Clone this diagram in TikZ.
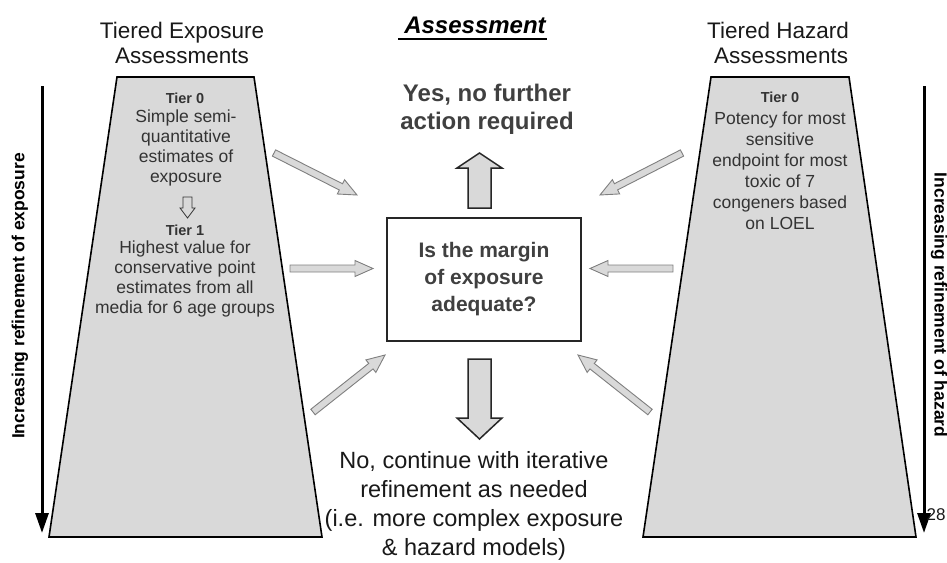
\documentclass[tikz,border=0pt]{standalone}
\usepackage{fontspec}
\setmainfont{Liberation Sans}
\usetikzlibrary{calc,arrows.meta}

\definecolor{trapgray}{HTML}{D9D9D9}
\definecolor{inkgray}{HTML}{404040}
\definecolor{tiertext}{HTML}{333333}
\definecolor{edgegray}{HTML}{7F7F7F}

\tikzset{
  trap/.style={draw=black, line width=1.6pt, fill=trapgray, line join=miter},
  qbox/.style={draw=black!85, line width=1.5pt, fill=white, minimum width=194pt,
    minimum height=123pt, inner sep=0pt, align=center, text=inkgray,
    font=\bfseries\fontsize{21}{27}\selectfont},
  heading/.style={align=center, text=black!90, font=\fontsize{22.5}{25}\selectfont},
  tierlabel/.style={text=tiertext, font=\bfseries\fontsize{14.5}{17}\selectfont},
  tierbody/.style={align=center, text=tiertext, font=\fontsize{17.5}{20.3}\selectfont, inner sep=0pt},
  sidelabel/.style={text=black, font=\bfseries\fontsize{17.5}{20}\selectfont},
  refarrow/.style={line width=3pt, -{Triangle[length=20pt,width=13pt]}},
  thinarrow/.style={draw=edgegray, line width=0.9pt, fill=trapgray, line join=miter},
  bigarrow/.style={draw=black!85, line width=1.5pt, fill=trapgray, line join=miter},
  hollowarrow/.style={draw=tiertext, line width=0.8pt, fill=trapgray, line join=miter}
}

% block arrow: style, tail, tip, shaft half-width, head half-width, head length
\newcommand{\blockarrow}[6]{%
  \coordinate (ba-h) at ($(#3)!#6!(#2)$);
  \draw[#1] ($(#2)!#4!90:(#3)$) -- ($(ba-h)!#4!-90:(#2)$) -- ($(ba-h)!#5!-90:(#2)$)
    -- (#3) -- ($(ba-h)!#5!90:(#2)$) -- ($(ba-h)!#4!90:(#2)$) -- ($(#2)!#4!-90:(#3)$) -- cycle;
}

\begin{document}
\begin{tikzpicture}[x=1pt,y=-1pt]
\useasboundingbox (0,0) rectangle (947,562);

% the two tiered columns
\draw[trap] (117,77) -- (254,77) -- (322,537) -- (49,537) -- cycle;
\draw[trap] (711,77) -- (849,77) -- (916,537) -- (643,537) -- cycle;

% headings
\node[heading] (expTitle) at (182,42.5) {Tiered Exposure\\Assessments};
\node[heading] (hazTitle) at (778,42.5) {Tiered Hazard\\\ Assessments};
\node[text=black, font=\bfseries\itshape\fontsize{24}{28}\selectfont, inner sep=0pt] (asm) at (475,25) {Assessment};
\draw[line width=1.8pt] ([xshift=-6pt,yshift=-5.5pt]asm.base west) -- ([xshift=1pt,yshift=-5.5pt]asm.base east);

% exposure tiers
\node[tierlabel] (e0) at (185,98) {Tier 0};
\node[tierbody] (e0txt) at (186,148) {Simple semi-\\quantitative\\estimates of\\exposure};
\coordinate (e0out) at (187.5,197);
\coordinate (e1in) at (187.5,218);
\blockarrow{hollowarrow}{e0out}{e1in}{4.5pt}{7.5pt}{10pt}
\node[tierlabel] (e1) at (185,230) {Tier 1};
\node[tierbody] (e1txt) at (185,279) {Highest value for\\conservative point\\estimates from all\\media for 6 age groups};

% hazard tier
\node[tierlabel] (h0) at (780,97) {Tier 0};
\node[tierbody, font=\fontsize{17.5}{21}\selectfont] (h0txt) at (780,171) {Potency for most\\sensitive\\endpoint for most\\toxic of 7\\congeners based\\on LOEL};

% central question
\node[qbox] (q) at (484,279.5) {Is the margin\\of exposure\\adequate?};

% outcomes
\node[align=center, text=inkgray, font=\bfseries\fontsize{24}{28}\selectfont] (yes) at (487,109) {Yes, no further\\action required};
\node[align=center, text=black!90, font=\fontsize{23.5}{29}\selectfont] (no) at (474,506) {No, continue with iterative\\refinement as needed\\(i.e. more complex exposure\\\& hazard models)};

\coordinate (upTail) at (479.5,208);
\coordinate (upTip) at (479.5,153);
\blockarrow{bigarrow}{upTail}{upTip}{11.5pt}{22.5pt}{15pt}
\coordinate (dnTail) at (479.5,359);
\coordinate (dnTip) at (479.5,439);
\blockarrow{bigarrow}{dnTail}{dnTip}{11.5pt}{22.5pt}{21pt}

% inputs feeding the question
\coordinate (eA) at (274,153);   \coordinate (qA) at (357,195);
\coordinate (eB) at (290,268.5); \coordinate (qB) at (373,268.5);
\coordinate (eC) at (313,412);   \coordinate (qC) at (385,355);
\coordinate (hA) at (682,153);   \coordinate (qD) at (600,195);
\coordinate (hB) at (673,268.5); \coordinate (qE) at (590,268.5);
\coordinate (hC) at (650,412);   \coordinate (qF) at (578,355);
\blockarrow{thinarrow}{eA}{qA}{3.5pt}{8pt}{18pt}
\blockarrow{thinarrow}{eB}{qB}{3.5pt}{8pt}{18pt}
\blockarrow{thinarrow}{eC}{qC}{3.5pt}{8pt}{18pt}
\blockarrow{thinarrow}{hA}{qD}{3.5pt}{8pt}{18pt}
\blockarrow{thinarrow}{hB}{qE}{3.5pt}{8pt}{18pt}
\blockarrow{thinarrow}{hC}{qF}{3.5pt}{8pt}{18pt}

% refinement direction
\coordinate (lTop) at (42,86);  \coordinate (lBot) at (42,533);
\coordinate (rTop) at (924,86); \coordinate (rBot) at (924,533);
\draw[refarrow] (lTop) -- (lBot);
\draw[refarrow] (rTop) -- (rBot);
\node[sidelabel, rotate=90] (lLab) at (20,296) {Increasing refinement of exposure};
\node[sidelabel, rotate=-90] (rLab) at (939,305) {Increasing refinement of hazard};

% slide number
\node[text=black!90, font=\fontsize{17}{20}\selectfont, inner sep=0pt] (pg) at (936,515) {28};
\end{tikzpicture}
\end{document}
